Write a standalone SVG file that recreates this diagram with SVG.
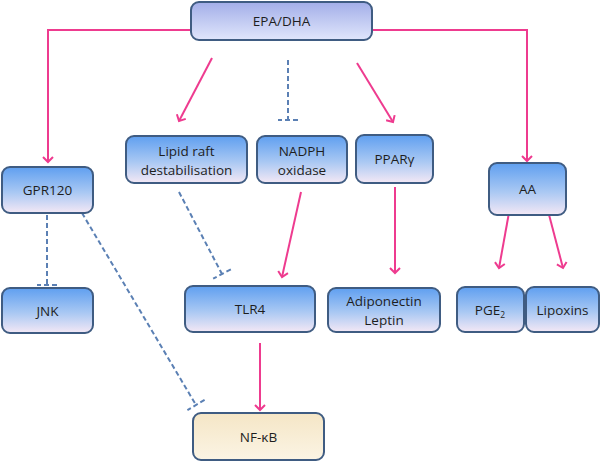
<svg xmlns="http://www.w3.org/2000/svg" width="600" height="462" viewBox="0 0 600 462">
<defs>
<linearGradient id="gBlue" x1="0" y1="0" x2="0" y2="1">
<stop offset="0" stop-color="#5f9ff0"/>
<stop offset="0.55" stop-color="#a9c8f3"/>
<stop offset="1" stop-color="#f4e8f5"/>
</linearGradient>
<linearGradient id="gTop" x1="0" y1="0" x2="0" y2="1">
<stop offset="0" stop-color="#a3aee8"/>
<stop offset="1" stop-color="#e0e6fc"/>
</linearGradient>
<linearGradient id="gBeige" x1="0" y1="0" x2="0" y2="1">
<stop offset="0" stop-color="#f5e6c6"/>
<stop offset="1" stop-color="#fbf4e4"/>
</linearGradient>
<marker id="arr" markerWidth="12" markerHeight="12" refX="6" refY="6" orient="auto" markerUnits="userSpaceOnUse">
<path d="M1,1 L6,6 L1,11" fill="none" stroke="#ee3b8f" stroke-width="2"/>
</marker>
<marker id="bar" markerWidth="28" markerHeight="28" refX="14" refY="14" orient="auto" markerUnits="userSpaceOnUse">
<path d="M14,4 L14,24" fill="none" stroke="#5b80b4" stroke-width="2" stroke-dasharray="5,3"/>
</marker>
</defs>
<style>
.n rect{stroke:#3f5c82;stroke-width:2}
.n text{font-family:"Open Sans","Liberation Sans",sans-serif;font-size:13.5px;fill:#1e1e1e;text-anchor:middle}
.a{fill:none;stroke:#ee3b8f;stroke-width:2;marker-end:url(#arr)}
.i{fill:none;stroke:#5b80b4;stroke-width:2;stroke-dasharray:5,3;marker-end:url(#bar)}
</style>
<g id="connectors">
<path class="a" d="M190,30 H48 V162"/>
<path class="a" d="M372,30 H527 V161"/>
<path class="a" d="M212,58 L179,121"/>
<path class="i" d="M288,60 V120"/>
<path class="a" d="M357,63 L393,122"/>
<path class="i" d="M47,215 V285"/>
<path class="i" d="M82,213 L196,405"/>
<path class="i" d="M179,192 L222,274"/>
<path class="a" d="M301,192 L282,277"/>
<path class="a" d="M395,187 V273"/>
<path class="a" d="M260,343 V410"/>
<path class="a" d="M510,207 L499,268"/>
<path class="a" d="M547,207 L563,268"/>
</g>
<g id="epa" class="n"><rect x="191" y="2" width="181" height="38" rx="8" fill="url(#gTop)"/><text x="281.5" y="26">EPA/DHA</text></g>
<g id="gpr120" class="n"><rect x="2" y="167" width="91" height="46" rx="8" fill="url(#gBlue)"/><text x="47.5" y="195">GPR120</text></g>
<g id="lipid" class="n"><rect x="126" y="136" width="121" height="47" rx="8" fill="url(#gBlue)"/><text x="186.5" y="156">Lipid raft</text><text x="186.5" y="175">destabilisation</text></g>
<g id="nadph" class="n"><rect x="257" y="136" width="90" height="47" rx="8" fill="url(#gBlue)"/><text x="302" y="156">NADPH</text><text x="302" y="175">oxidase</text></g>
<g id="ppar" class="n"><rect x="356" y="135" width="77" height="48" rx="8" fill="url(#gBlue)"/><text x="394.5" y="164">PPARγ</text></g>
<g id="aa" class="n"><rect x="489" y="163" width="77" height="52" rx="8" fill="url(#gBlue)"/><text x="527.5" y="194">AA</text></g>
<g id="jnk" class="n"><rect x="2" y="288" width="91" height="45" rx="8" fill="url(#gBlue)"/><text x="47.5" y="315.5">JNK</text></g>
<g id="tlr4" class="n"><rect x="185" y="286" width="130" height="46" rx="8" fill="url(#gBlue)"/><text x="250" y="314">TLR4</text></g>
<g id="adipo" class="n"><rect x="328" y="288" width="112" height="44" rx="8" fill="url(#gBlue)"/><text x="384" y="306">Adiponectin</text><text x="384" y="325">Leptin</text></g>
<g id="pge2" class="n"><rect x="457" y="287" width="67" height="45" rx="8" fill="url(#gBlue)"/><text x="490" y="314.5">PGE<tspan font-size="8.5" dy="3">2</tspan></text></g>
<g id="lipoxins" class="n"><rect x="526" y="287" width="73" height="45" rx="8" fill="url(#gBlue)"/><text x="562.5" y="314.5">Lipoxins</text></g>
<g id="nfkb" class="n"><rect x="193" y="413" width="131" height="47" rx="8" fill="url(#gBeige)"/><text x="258.5" y="441.5">NF-κB</text></g>
</svg>
